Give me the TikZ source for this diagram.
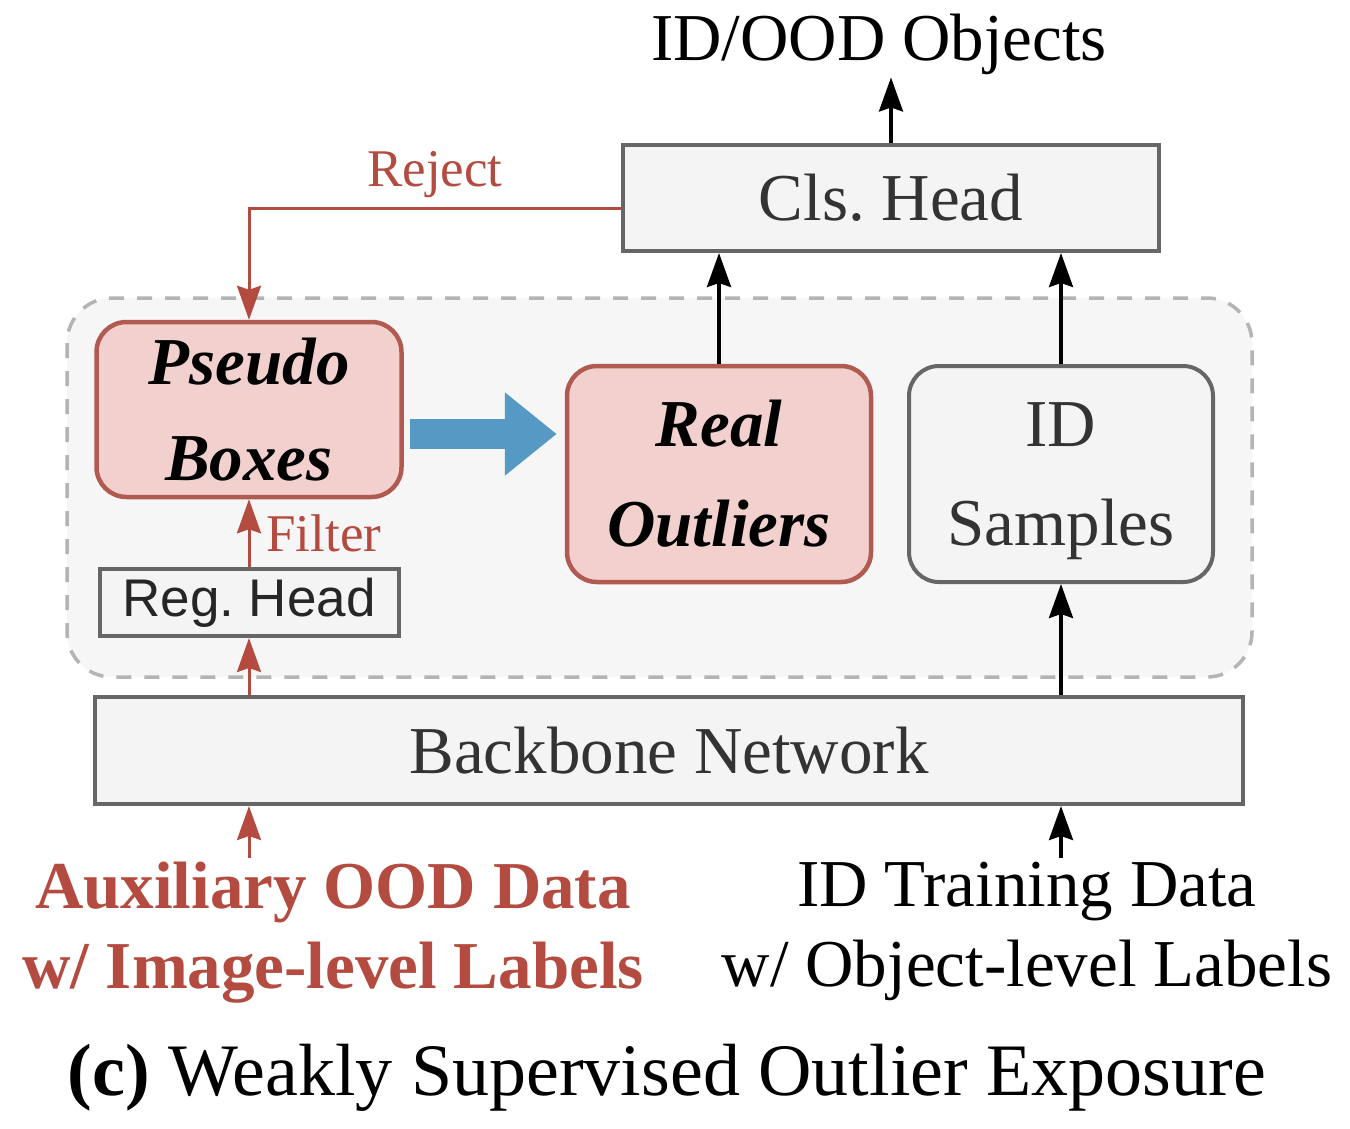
\documentclass[tikz,border=0pt]{standalone}
\usepackage{fontspec}
\setmainfont{Liberation Serif}
\setsansfont{Liberation Sans}
\usetikzlibrary{arrows.meta}
\definecolor{boxred}{HTML}{B05A52}
\definecolor{fillred}{HTML}{F2D0CE}
\definecolor{txtred}{HTML}{B44B41}
\definecolor{boxgray}{HTML}{666666}
\definecolor{fillgray}{HTML}{F4F4F4}
\definecolor{regionfill}{HTML}{F6F6F6}
\definecolor{dashgray}{HTML}{B4B4B4}
\definecolor{flowblue}{HTML}{5799C5}
\begin{document}
\begin{tikzpicture}[x=1pt,y=-1pt,
  headbox/.style={draw=boxgray,fill=fillgray,line width=4pt,text=black!80,inner sep=0pt,font=\fontsize{67}{80}\selectfont},
  featbox/.style={rounded corners=30pt,line width=4.5pt,align=center,inner sep=0pt,minimum width=304pt,minimum height=216pt},
  redarr/.style={draw=txtred,line width=3pt,-{Stealth[length=34pt,width=24pt,inset=4pt]}},
  blkarr/.style={draw=black,line width=3.5pt,-{Stealth[length=34pt,width=24pt,inset=4pt]}},
  flowarr/.style={draw=flowblue,line width=30pt,-{Triangle[length=52pt,width=80pt]}}]
\useasboundingbox (0,0) rectangle (1350,1128);

\draw [dashgray,fill=regionfill,line width=3.5pt,dash pattern=on 15pt off 13pt,rounded corners=45pt] (67,298) rectangle (1252,677) ;

\node [headbox,minimum width=536pt,minimum height=106pt] (cls) at (891,198) {Cls.\ Head};
\node [headbox,minimum width=1148pt,minimum height=107pt] (bb) at (669,750.5) {Backbone Network};
\node [headbox,minimum width=299pt,minimum height=67pt,text=black!85,font=\sffamily\fontsize{53}{60}\selectfont] (reg) at (249,602.5) {Reg.\ Head};

\node [featbox,draw=boxred,fill=fillred,minimum width=305pt,minimum height=175pt,font=\fontsize{67}{96}\selectfont\bfseries\itshape] (pseudo) at (249,409.5) {Pseudo\\Boxes};
\node [featbox,draw=boxred,fill=fillred,font=\fontsize{67}{100}\selectfont\bfseries\itshape] (real) at (719,474) {Real\\Outliers};
\node [featbox,draw=boxgray,fill=fillgray,line width=4pt,text=black!80,font=\fontsize{67}{99}\selectfont] (idsam) at (1061,474) {ID\\\smash{Samples}};

\node [anchor=base,inner sep=3pt,font=\fontsize{67}{80}\selectfont] (objects) at (879,60) {ID/OOD Objects};
\node [anchor=north,align=center,inner sep=4pt,text=txtred,font=\fontsize{67}{80}\selectfont\bfseries] (auxdata) at (333,858) {Auxiliary OOD Data\\w/ Image-level Labels};
\node [anchor=north,align=center,inner sep=4pt,font=\fontsize{67}{80}\selectfont] (iddata) at (1027,858) {ID Training Data\\w/ Object-level Labels};
\node [anchor=base,font=\fontsize{74}{80}\selectfont] (caption) at (667,1095) {\textbf{(c)} Weakly Supervised Outlier Exposure};

% red path: aux data -> backbone -> reg head -> pseudo boxes
\draw [redarr] (auxdata.north -| reg.south) -- (bb.south -| reg.south) ;
\draw [redarr] (bb.north -| reg.south) -- (reg.south) ;
\draw [redarr] (reg.north) -- (pseudo.south) node [midway,right,inner sep=0pt,xshift=16pt,text=txtred,font=\fontsize{53}{60}\selectfont] (filterlbl) {Filter} ;
\coordinate (rejectstart) at ([yshift=-10pt]cls.west) ;
\draw [redarr] (rejectstart) -| (pseudo.north) node [pos=0.25,above,inner sep=9pt,text=txtred,font=\fontsize{53}{60}\selectfont] (rejectlbl) {Reject} ;

\coordinate (flowstart) at (pseudo.east |- 0,434) ;
\draw [flowarr,shorten <=6pt,shorten >=8pt] (flowstart) -- (flowstart -| real.west) ;

% black path: id data -> backbone -> id samples -> cls head -> objects
\draw [blkarr] (iddata.north -| idsam.south) -- (bb.south -| idsam.south) ;
\draw [blkarr] (bb.north -| idsam.south) -- (idsam.south) ;
\draw [blkarr] (idsam.north) -- (idsam.north |- cls.south) ;
\draw [blkarr] (real.north) -- (real.north |- cls.south) ;
\draw [blkarr] (cls.north) -- (objects.south -| cls.north) ;

\end{tikzpicture}
\end{document}
